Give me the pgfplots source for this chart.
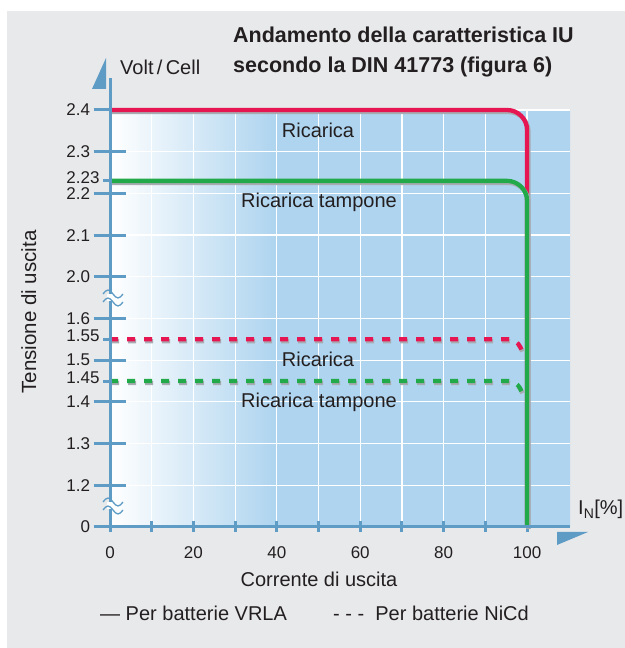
\documentclass[border=0pt]{standalone}
\usepackage{pgfplots}
\pgfplotsset{compat=1.18}
\usepackage{fontspec}
\setmainfont{Liberation Sans}
\definecolor{axisblue}{RGB}{94,156,198}
\definecolor{bgblue}{RGB}{174,212,239}
\definecolor{panelgray}{RGB}{232,233,235}
\definecolor{cred}{RGB}{229,22,82}
\definecolor{cgreen}{RGB}{34,170,74}
\definecolor{shadowgray}{RGB}{168,172,178}
\definecolor{txt}{RGB}{35,31,32}
\pgfdeclarehorizontalshading{plotbg}{100bp}{color(0bp)=(white); color(25bp)=(white); color(43.1bp)=(bgblue); color(100bp)=(bgblue)}
\newcommand{\fs}[1]{\fontsize{#1}{#1}\selectfont}
\begin{document}
\begin{tikzpicture}
\fill[white] (0,0) rectangle (625bp,648bp);
\fill[panelgray] (7bp,0) rectangle (625bp,637bp);
\begin{axis}[
  at={(110bp,121bp)}, anchor=south west,
  scale only axis, width=460bp, height=417bp,
  xmin=0, xmax=110.3, ymin=0, ymax=10,
  clip=false,
  axis background/.style={shading=plotbg},
  axis line style={draw=none},
  xtick={0,20,...,100},
  minor xtick={0,10,...,100},
  ytick={0,1,...,10},
  yticklabels={0,1.2,1.3,1.4,1.5,1.6,2.0,2.1,2.2,2.3,2.4},
  extra y ticks={3.5,4.5,8.3},
  extra y tick labels={1.45,1.55,2.23},
  extra y tick style={major tick length=7bp, tick align=outside, grid=none,
    yticklabel style={yshift=3.5bp}},
  tick align=center,
  major tick length=33bp, minor tick length=11bp,
  xtick pos=left, ytick pos=left,
  major x tick style={draw=none},
  minor x tick style={axisblue, line width=3bp},
  ytick style={axisblue, line width=3bp},
  xmajorgrids, xminorgrids, ymajorgrids,
  major grid style={white, line width=1.2bp},
  minor grid style={white, line width=1.2bp},
  tick label style={font=\fs{17bp}, text=txt},
  yticklabel style={inner ysep=0.5bp},
  /pgf/number format/assume math mode=true,
]
% shadows and curves
\addplot[shadowgray, line width=4.3bp, rounded corners=20bp, xshift=1.5bp, yshift=-2bp] coordinates {(0,10) (100,10) (100,0)};
\addplot[cred, line width=4.3bp, rounded corners=20bp] coordinates {(0,10) (100,10) (100,0)};
\addplot[shadowgray, line width=4.3bp, rounded corners=20bp, xshift=1.5bp, yshift=-2bp] coordinates {(0,8.3) (100,8.3) (100,0)};
\addplot[cgreen, line width=4.3bp, rounded corners=20bp] coordinates {(0,8.3) (100,8.3) (100,0)};
\addplot[shadowgray, line width=4.3bp, dash pattern=on 8bp off 9bp, rounded corners=8bp, xshift=1bp, yshift=-2bp] coordinates {(0,4.5) (97.5,4.5) (99.3,4.12)};
\addplot[cred, line width=4.3bp, dash pattern=on 8bp off 9bp, rounded corners=8bp] coordinates {(0,4.5) (97.5,4.5) (99.3,4.12)};
\addplot[shadowgray, line width=4.3bp, dash pattern=on 8bp off 9bp, rounded corners=8bp, xshift=1bp, yshift=-2bp] coordinates {(0,3.5) (97.5,3.5) (99.3,3.12)};
\addplot[cgreen, line width=4.3bp, dash pattern=on 8bp off 9bp, rounded corners=8bp] coordinates {(0,3.5) (97.5,3.5) (99.3,3.12)};
\end{axis}
% axis lines and arrows
\draw[axisblue, line width=3bp] (110bp,121bp) -- (110bp,570bp);
\draw[axisblue, line width=3bp] (94bp,121bp) -- (570bp,121bp);
\fill[axisblue] (106bp,590bp) -- (106bp,559bp) -- (92bp,559bp) -- cycle;
\fill[axisblue] (557bp,116bp) -- (588bp,116bp) -- (557bp,103bp) -- cycle;
% axis breaks
\foreach \yy in {351,143} {
  \fill[white] (107bp,\yy bp-4bp) rectangle (113bp,\yy bp+3bp);
  \draw[axisblue, line width=1.3bp] (103bp,\yy bp+3bp) sin (108bp,\yy bp+7bp) cos (113bp,\yy bp+3bp) sin (118bp,\yy bp-1bp) cos (123bp,\yy bp+3bp);
  \draw[axisblue, line width=1.3bp] (103bp,\yy bp-5bp) sin (108bp,\yy bp-1bp) cos (113bp,\yy bp-5bp) sin (118bp,\yy bp-9bp) cos (123bp,\yy bp-5bp);
}
% texts
\begin{scope}[every node/.style={text=txt, inner sep=0pt}]
\node[anchor=base west, font=\fs{21.5bp}\bfseries] at (233bp,605bp) {Andamento della caratteristica IU};
\node[anchor=base west, font=\fs{21.5bp}\bfseries] at (233bp,575bp) {secondo la DIN 41773 (figura 6)};
\node[anchor=base west, font=\fs{20bp}] at (120bp,573bp) {Volt\,/\,Cell};
\node[anchor=base, rotate=90, font=\fs{20.5bp}] at (36bp,336bp) {Tensione di uscita};
\node[anchor=base, font=\fs{20bp}] at (319bp,61bp) {Corrente di uscita};
\node[anchor=base west, font=\fs{20bp}] at (578bp,133bp) {I\textsubscript{N}[\%]};
\node[anchor=base, font=\fs{20bp}] at (318bp,510bp) {Ricarica};
\node[anchor=base, font=\fs{20bp}] at (319bp,440bp) {Ricarica tampone};
\node[anchor=base, font=\fs{20bp}] at (318bp,281bp) {Ricarica};
\node[anchor=base, font=\fs{20bp}] at (319bp,240bp) {Ricarica tampone};
\node[anchor=base west, font=\fs{20bp}] at (100bp,28bp) {— Per batterie VRLA};
\node[anchor=base west, font=\fs{20bp}] at (333bp,28bp) {- - -\ \ Per batterie NiCd};
\end{scope}
\pgfresetboundingbox
\useasboundingbox (0,0) rectangle (625bp,648bp);
\end{tikzpicture}
\end{document}
